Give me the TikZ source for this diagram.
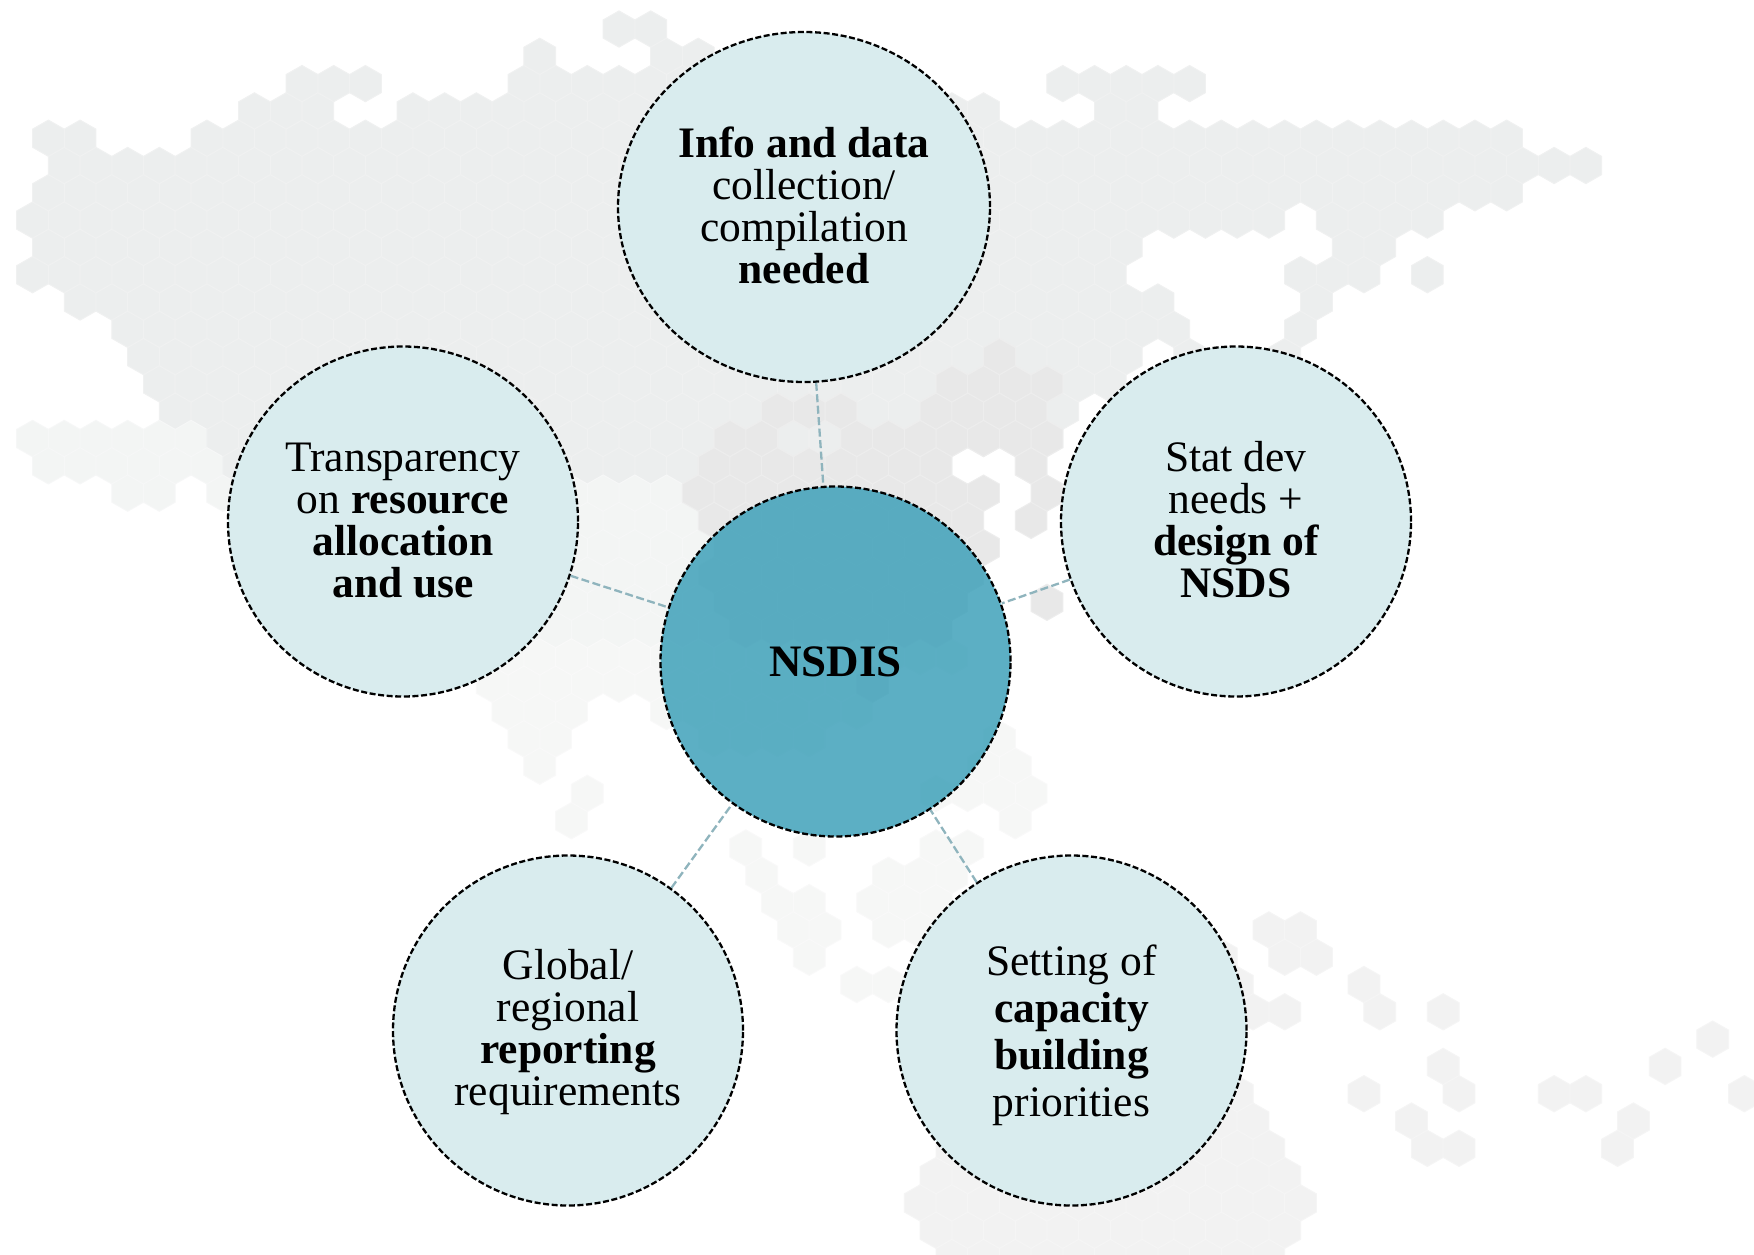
\documentclass[tikz,border=0pt]{standalone}
\usepackage{fontspec}
\setmainfont{Liberation Serif}
\usetikzlibrary{shapes.geometric}
\definecolor{hmain}{HTML}{ECEEEE}
\definecolor{hmainl}{HTML}{F0F1F1}
\definecolor{hdark}{HTML}{E8E8E8}
\definecolor{hdarkl}{HTML}{EDEDED}
\definecolor{hpale}{HTML}{F3F5F4}
\definecolor{hpalel}{HTML}{F6F7F7}
\definecolor{hisle}{HTML}{F6F7F6}
\definecolor{hislel}{HTML}{F9F9F9}
\definecolor{haus}{HTML}{F2F2F2}
\definecolor{hausl}{HTML}{F5F5F5}
\definecolor{bub}{HTML}{D9ECEE}
\definecolor{core}{RGB}{52,156,182}
\definecolor{link}{HTML}{8FB4BD}
\tikzset{
  mainh/.style={fill=hmain,draw=hmainl,line width=1pt},
  darkh/.style={fill=hdark,draw=hdarkl,line width=1pt},
  paleh/.style={fill=hpale,draw=hpalel,line width=1pt},
  isleh/.style={fill=hisle,draw=hislel,line width=1pt},
  aush/.style={fill=haus,draw=hausl,line width=1pt},
  bubble/.style={ellipse,draw=black,line width=2.3pt,dash pattern=on 6pt off 2.6pt,inner sep=0pt,
    minimum width=350pt,minimum height=350pt},
  btext/.style={align=center,inner sep=0pt,font=\fontsize{43.5}{42}\selectfont,text=black},
  linkline/.style={draw=link,line width=2.3pt,dash pattern=on 8pt off 3.5pt}
}
\newcommand\hexes[4]{%
  \foreach \k in {#2,...,#3}{%
    \pgfmathsetmacro\hxx{302+31.7*\k+15.85*mod(#1,2)}%
    \pgfmathsetmacro\hyy{29+27.3*#1}%
    \path[#4,shift={(\hxx,\hyy)}] (0,-18.1)--(15.85,-9.05)--(15.85,9.05)--(0,18.1)--(-15.85,9.05)--(-15.85,-9.05)--cycle;}}
\begin{document}
\begin{tikzpicture}[x=1pt,y=-1pt]
\useasboundingbox (0,0) rectangle (1754,1254);
\fill[white] (0,0) rectangle (1754,1254);
% --- Eurasia
\hexes{0}{10}{11}{mainh}
\hexes{1}{7}{7}{mainh}\hexes{1}{11}{12}{mainh}
\hexes{2}{0}{2}{mainh}\hexes{2}{7}{12}{mainh}\hexes{2}{24}{28}{mainh}
\hexes{3}{-2}{0}{mainh}\hexes{3}{3}{21}{mainh}\hexes{3}{25}{26}{mainh}
\hexes{4}{-8}{-7}{mainh}\hexes{4}{-3}{38}{mainh}
\hexes{5}{-8}{40}{mainh}
\hexes{6}{-8}{38}{mainh}
\hexes{7}{-9}{30}{mainh}\hexes{7}{32}{35}{mainh}
\hexes{8}{-8}{26}{mainh}\hexes{8}{33}{34}{mainh}
\hexes{9}{-9}{25}{mainh}\hexes{9}{31}{33}{mainh}\hexes{9}{35}{35}{mainh}
\hexes{10}{-7}{27}{mainh}\hexes{10}{32}{32}{mainh}
\hexes{11}{-6}{27}{mainh}\hexes{11}{31}{31}{mainh}
\hexes{12}{-5}{26}{mainh}\hexes{12}{28}{28}{mainh}\hexes{12}{31}{31}{mainh}
\hexes{13}{-5}{25}{mainh}
\hexes{14}{-4}{24}{mainh}
\hexes{15}{-9}{-4}{paleh}\hexes{15}{-3}{23}{mainh}
\hexes{16}{-8}{-3}{paleh}\hexes{16}{-2}{20}{mainh}\hexes{16}{23}{23}{mainh}
\hexes{17}{-6}{-5}{paleh}\hexes{17}{-3}{-3}{paleh}
% --- Africa
\hexes{17}{0}{11}{paleh}
\hexes{18}{0}{12}{paleh}
\hexes{19}{0}{12}{paleh}
\hexes{20}{0}{12}{paleh}
\hexes{21}{0}{12}{paleh}
\hexes{22}{0}{13}{paleh}
\hexes{23}{5}{20}{isleh}
\hexes{24}{6}{17}{isleh}
\hexes{25}{6}{8}{isleh}\hexes{25}{11}{17}{isleh}
\hexes{26}{7}{8}{isleh}\hexes{26}{13}{16}{isleh}
\hexes{27}{7}{7}{isleh}
% --- darker patch
\hexes{12}{22}{22}{darkh}
\hexes{13}{20}{23}{darkh}
\hexes{14}{15}{17}{darkh}\hexes{14}{20}{23}{darkh}
\hexes{15}{13}{14}{darkh}\hexes{15}{17}{23}{darkh}
\hexes{16}{13}{20}{darkh}\hexes{16}{23}{23}{darkh}
\hexes{17}{12}{21}{darkh}\hexes{17}{23}{23}{darkh}
\hexes{18}{13}{21}{darkh}\hexes{18}{23}{23}{darkh}
\hexes{19}{13}{21}{darkh}
\hexes{20}{13}{21}{darkh}
\hexes{21}{13}{20}{darkh}\hexes{21}{23}{23}{darkh}
\hexes{22}{14}{20}{darkh}
\hexes{24}{18}{18}{darkh}
% --- scattered islands
\hexes{26}{22}{22}{isleh}
\hexes{27}{21}{22}{isleh}
\hexes{28}{9}{9}{isleh}\hexes{28}{20}{23}{isleh}
\hexes{29}{8}{8}{isleh}\hexes{29}{22}{22}{isleh}
\hexes{30}{14}{14}{isleh}\hexes{30}{16}{16}{isleh}\hexes{30}{20}{21}{isleh}
\hexes{31}{14}{14}{isleh}\hexes{31}{18}{20}{isleh}
\hexes{32}{15}{16}{isleh}\hexes{32}{18}{20}{isleh}
\hexes{33}{15}{16}{isleh}\hexes{33}{18}{19}{isleh}
\hexes{34}{16}{16}{isleh}
\hexes{35}{17}{18}{isleh}
% --- Australia and Pacific
\hexes{33}{30}{31}{aush}
\hexes{34}{29}{29}{aush}\hexes{34}{31}{32}{aush}
\hexes{35}{29}{29}{aush}\hexes{35}{33}{33}{aush}
\hexes{36}{30}{31}{aush}\hexes{36}{34}{34}{aush}\hexes{36}{36}{36}{aush}
\hexes{37}{44}{44}{aush}
\hexes{38}{36}{36}{aush}\hexes{38}{43}{43}{aush}
\hexes{39}{27}{29}{aush}\hexes{39}{33}{33}{aush}\hexes{39}{36}{36}{aush}\hexes{39}{39}{40}{aush}\hexes{39}{45}{45}{aush}
\hexes{40}{26}{30}{aush}\hexes{40}{35}{35}{aush}\hexes{40}{42}{42}{aush}
\hexes{41}{20}{30}{aush}\hexes{41}{35}{36}{aush}\hexes{41}{41}{41}{aush}
\hexes{42}{20}{31}{aush}
\hexes{43}{19}{31}{aush}
\hexes{44}{20}{31}{aush}
\hexes{45}{20}{30}{aush}
% --- circles
\node[bubble,fill=bub,minimum width=372pt] (info) at (804,207) {};
\node[bubble,fill=bub] (stat) at (1236,521.5) {};
\node[bubble,fill=bub] (transp) at (403,521.5) {};
\node[bubble,fill=bub] (global) at (568,1030.5) {};
\node[bubble,fill=bub] (setting) at (1071.5,1030.5) {};
\node[bubble,fill=core,fill opacity=.8] (core) at (835.5,661.5) {};
% --- texts
\node[btext] (infotext) at (804,205)
  {\textbf{Info and data}\\collection/\\compilation\\\textbf{needed}};
\node[btext] (stattext) at (1236,519.5)
  {Stat dev\\needs +\\\textbf{design of}\\\textbf{NSDS}};
\node[btext] (transptext) at (403,520.5)
  {Transparency\\on \textbf{resource}\\\textbf{allocation}\\\textbf{and use}};
\node[btext] (globaltext) at (568,1032.5)
  {Global/\\regional\\\textbf{reporting}\\requirements};
\node[btext] (settingtext) at (1071.5,1035.5)
  {Setting of\\[5pt]\textbf{capacity}\\[5pt]\textbf{building}\\[5pt]priorities};
\node[btext,font=\fontsize{45}{48}\selectfont\bfseries] (coretext) at (835.5,661.5) {NSDIS};
% --- connectors
\draw[linkline] (info) -- (core);
\draw[linkline] (transp) -- (core);
\draw[linkline] (stat) -- (core);
\draw[linkline] (global) -- (core);
\draw[linkline] (setting) -- (core);
\end{tikzpicture}
\end{document}
